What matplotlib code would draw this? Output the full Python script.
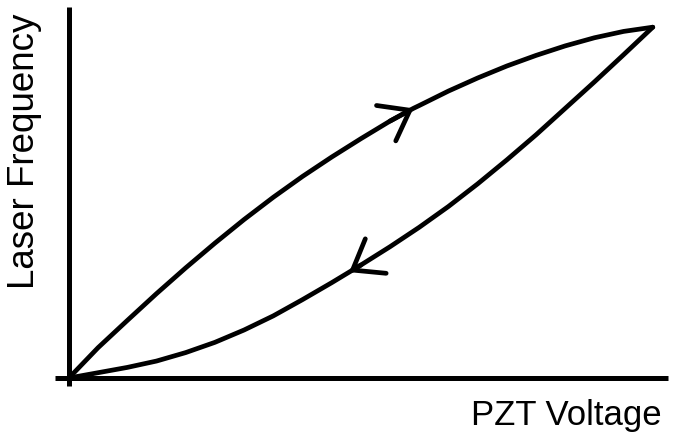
from matplotlib import pyplot as plt

# piezo sweep: laser frequency vs PZT voltage (arbitrary units, 0-100)
up_voltage = [0, 5, 10, 15, 20, 25, 30, 35, 40, 45, 50, 55, 59, 60, 65, 70, 75, 80, 85, 90, 95, 100]
up_freq = [0.0, 8.6, 16.3, 23.9, 31.2, 38.2, 44.9, 51.2, 57.1, 62.6, 67.8, 72.8, 76.4, 77.2,
           81.3, 85.0, 88.4, 91.4, 94.1, 96.4, 98.2, 99.4]

down_voltage = [100, 95, 90, 85, 80, 75, 70, 65, 60, 55, 50, 48, 45, 40, 35, 30, 25, 20, 15, 10, 5, 0]
down_freq = [99.4, 91.6, 83.9, 76.4, 68.9, 61.8, 55.0, 48.6, 42.7, 37.2, 32.0, 30.0, 27.0,
             22.2, 17.6, 13.6, 10.1, 7.2, 4.8, 3.0, 1.5, 0.0]

up_arrow_idx = 12     # where the arrowheads sit on each branch
down_arrow_idx = 11

plt.rcParams['font.family'] = ['Liberation Sans', 'DejaVu Sans']

fig = plt.figure(figsize=(6.75, 4.41), dpi=100)
ax = fig.add_axes([0, 0, 1, 1])
ax.set_xlim(-11.8, 103.8)
ax.set_ylim(-17.85, 107.1)
ax.axis('off')

# axes drawn as plain lines, crossing a bit at the origin
ax.plot([-2.4, 102.6], [0, 0], color='black', lw=3.6, solid_capstyle='butt')
ax.plot([0, 0], [-2.3, 105.1], color='black', lw=3.6, solid_capstyle='butt')

ax.plot(up_voltage, up_freq, color='black', lw=3.4,
        solid_capstyle='round', solid_joinstyle='round')
ax.plot(down_voltage, down_freq, color='black', lw=3.4,
        solid_capstyle='round', solid_joinstyle='round')

head = dict(arrowstyle='->,head_length=1.95,head_width=1.45',
            color='black', lw=3.4, shrinkA=0, shrinkB=0,
            capstyle='round', joinstyle='miter')
i = up_arrow_idx
ax.annotate('', xy=(up_voltage[i], up_freq[i]),
            xytext=(up_voltage[i - 1], up_freq[i - 1]), arrowprops=head)
j = down_arrow_idx
ax.annotate('', xy=(down_voltage[j], down_freq[j]),
            xytext=(down_voltage[j - 1], down_freq[j - 1]), arrowprops=head)

ax.text(-7.6, 64.3, 'Laser Frequency', rotation=90, fontsize=26.5,
        ha='center', va='center')
ax.text(101.5, -6.0, 'PZT Voltage', fontsize=25, ha='right', va='top')

fig.savefig('out.png', dpi=100)
